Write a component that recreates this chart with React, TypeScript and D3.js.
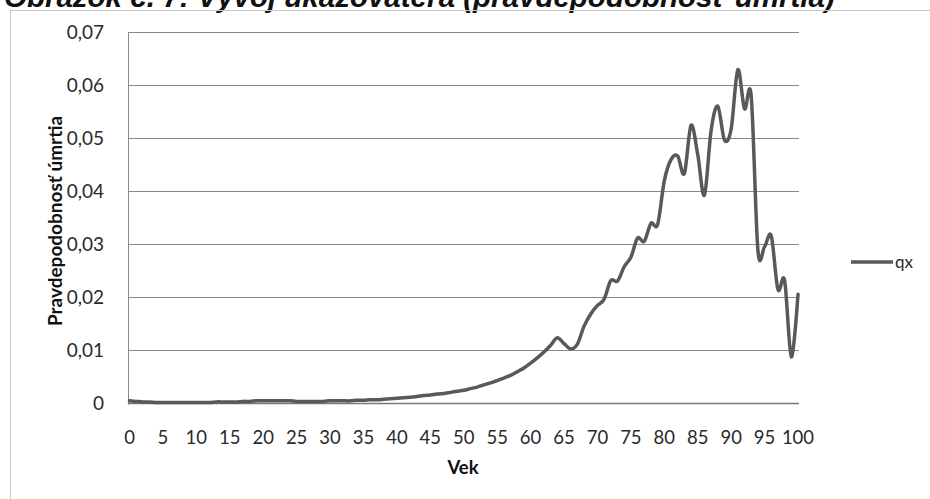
import React from "react";
import * as d3 from "d3";

const ages: number[] = Array.from({ length: 101 }, (_, i) => i);
const qx: number[] = [
  0.0005, 0.0004, 0.0003, 0.0003, 0.0002, 0.0002, 0.0002, 0.0002, 0.0002, 0.0002,
  0.0002, 0.0002, 0.0002, 0.0003, 0.0003, 0.0003, 0.0003, 0.0004, 0.0004, 0.0005,
  0.0005, 0.0005, 0.0005, 0.0005, 0.0005, 0.0004, 0.0004, 0.0004, 0.0004, 0.0004,
  0.0005, 0.0005, 0.0005, 0.0005, 0.0006, 0.0006, 0.0007, 0.0007, 0.0008, 0.0009,
  0.0010, 0.0011, 0.0012, 0.0013, 0.0015, 0.0016, 0.0018, 0.0019, 0.0021, 0.0023,
  0.0025, 0.0028, 0.0031, 0.0035, 0.0039, 0.0043, 0.0048, 0.0053, 0.0060, 0.0067,
  0.0076, 0.0086, 0.0097, 0.0110, 0.0124, 0.0113, 0.0103, 0.0112, 0.0146, 0.0169,
  0.0185, 0.0197, 0.0232, 0.0231, 0.0258, 0.0276, 0.0312, 0.0306, 0.0340, 0.0338,
  0.0420, 0.0460, 0.0467, 0.0434, 0.0525, 0.0470, 0.0393, 0.0515, 0.0561, 0.0497,
  0.0518, 0.0630, 0.0556, 0.0580, 0.0290, 0.0296, 0.0316, 0.0215, 0.0232, 0.0088,
  0.0206,
];
const yTicks: number[] = [0, 0.01, 0.02, 0.03, 0.04, 0.05, 0.06, 0.07];
const xTicks: number[] = d3.range(0, 101, 5);
const seriesName = "qx";
const title = "Obrázok č. 7: Vývoj ukazovateľa (pravdepodobnosť úmrtia)";
const xTitle = "Vek";
const yTitle = "Pravdepodobnosť úmrtia";

const W = 930;
const H = 499;
const FONT = "Lato, 'Open Sans', sans-serif";

export default function App() {
  const x = d3.scaleLinear().domain([0, 100]).range([129.5, 798]);
  const y = d3.scaleLinear().domain([0, 0.07]).range([403.5, 32.5]);
  const line = d3
    .line<number>()
    .x((_, i) => x(ages[i]))
    .y((d) => y(d))
    .curve(d3.curveCardinal.tension(0));
  const fmt = (v: number) => (v === 0 ? "0" : v.toFixed(2).replace(".", ","));

  return (
    <svg
      width={W}
      height={H}
      style={{ position: "absolute", left: 0, top: 0, background: "#fff" }}
      fontFamily={FONT}
    >
      <rect x={0} y={0} width={W} height={H} fill="#fff" />
      <text
        x={4}
        y={7}
        fontFamily="'Liberation Sans', Arial, sans-serif"
        fontWeight="bold"
        fontStyle="italic"
        fontSize={29.5}
        fill="#111"
      >
        {title}
      </text>
      <rect x={10.5} y={10.5} width={W} height={H} fill="none" stroke="#c8c8c8" strokeWidth={1} />

      {yTicks.map((t) => (
        <g key={t}>
          {t > 0 && (
            <line x1={128} x2={799} y1={y(t)} y2={y(t)} stroke="#8a8a8a" strokeWidth={1} />
          )}
          <text
            x={104}
            y={y(t)}
            dy="0.35em"
            textAnchor="end"
            fontSize={19}
            fill="#2a2a2a"
          >
            {fmt(t)}
          </text>
        </g>
      ))}
      <line x1={128.5} x2={128.5} y1={y(0.07)} y2={y(0) + 1} stroke="#8a8a8a" strokeWidth={1} />
      <line x1={128} x2={799} y1={y(0)} y2={y(0)} stroke="#7a7a7a" strokeWidth={1.5} />

      {xTicks.map((t) => (
        <text
          key={t}
          x={x(t)}
          y={438}
          dy="0.35em"
          textAnchor="middle"
          fontSize={18.5}
          fill="#2a2a2a"
        >
          {t}
        </text>
      ))}

      <text x={463} y={468} dy="0.35em" textAnchor="middle" fontSize={18.5} fontWeight="bold" fill="#111">
        {xTitle}
      </text>
      <text
        transform={`translate(55,221) rotate(-90)`}
        textAnchor="middle"
        dy="0.35em"
        fontSize={19}
        fontWeight="bold"
        fill="#111"
      >
        {yTitle}
      </text>

      <path d={line(qx) || ""} fill="none" stroke="#595959" strokeWidth={3.5} strokeLinejoin="round" strokeLinecap="round" />

      <line x1={851} x2={893} y1={262} y2={262} stroke="#595959" strokeWidth={3.5} />
      <text x={895} y={262} dy="0.35em" fontSize={17} fill="#2a2a2a">
        {seriesName}
      </text>
    </svg>
  );
}
